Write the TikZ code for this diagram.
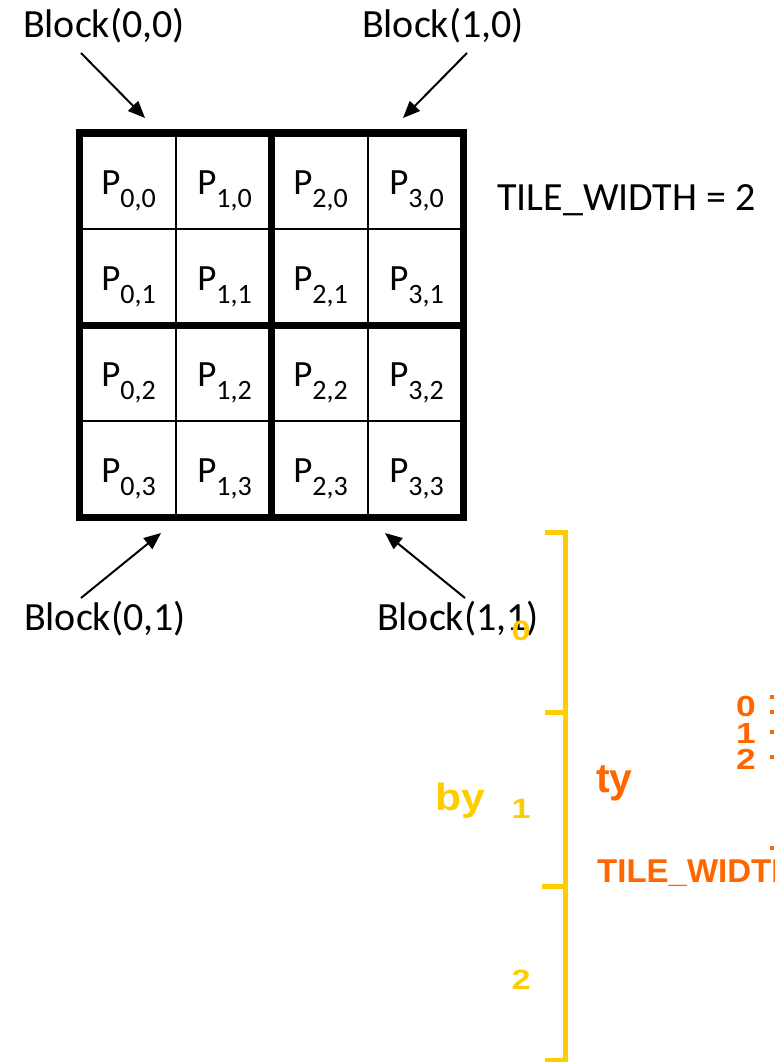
\documentclass[tikz,border=0pt]{standalone}
\usepackage{fontspec}
\usepackage{graphicx}
\setmainfont{Carlito}
\newfontfamily\arialfont{Liberation Sans}
\usetikzlibrary{arrows.meta}
\definecolor{ybr}{HTML}{FFCC00}
\definecolor{oran}{HTML}{FF6600}
\newcommand\Pcell[2]{P\raisebox{-13.4pt}{\fontsize{28}{28}\selectfont #1,#2}}
\newcommand\wide[1]{\scalebox{1.22}[1]{#1}}
\tikzset{
  blocklbl/.style={font=\fontsize{40}{48}\selectfont, inner sep=0pt, anchor=base},
  pcell/.style={font=\fontsize{37}{40}\selectfont, inner sep=0pt, anchor=base},
  gridthin/.style={line width=2pt, black},
  gridthick/.style={line width=7pt, black},
  ptr/.style={line width=2pt, -{Triangle[length=17pt,width=14pt]}},
  ylab/.style={text=ybr, font=\arialfont\bfseries\fontsize{28}{30}\selectfont, inner sep=0pt},
  olab/.style={text=oran, font=\arialfont\bfseries\fontsize{29}{30}\selectfont, inner sep=0pt},
  bigylab/.style={text=ybr, font=\arialfont\bfseries\fontsize{38}{42}\selectfont, inner sep=0pt},
  bigolab/.style={text=oran, font=\arialfont\bfseries\fontsize{41}{44}\selectfont, inner sep=0pt},
  bracket/.style={line width=5pt, ybr},
  omark/.style={fill=oran, draw=none},
}
\begin{document}
\begin{tikzpicture}[x=1pt,y=-1pt]
\useasboundingbox (0,0) rectangle (774,1062);
\begin{scope}
\clip (0,0) rectangle (774,1062);
% grid thin lines
\foreach \x in {175.5,367.5} \draw[gridthin] (\x,133) -- (\x,517);
\foreach \y in {229,421} \draw[gridthin] (79.5,\y) -- (463.5,\y);
% thick lines
\draw[gridthick] (271.5,133) -- (271.5,517);
\draw[gridthick] (79.5,325) -- (463.5,325);
\draw[gridthick] (79.5,133) rectangle (463.5,517);
% cells
\foreach \c [count=\i from 0] in {128.5,224.5,320.5,416.5}{
  \foreach \r [count=\j from 0] in {194,290,386,482}{
    \node[pcell] (p\i\j) at (\c,\r) {\Pcell{\i}{\j}};
  }
}
% block labels
\node[blocklbl] (b00) at (104,38) {Block(0,0)};
\node[blocklbl] (b10) at (443,38) {Block(1,0)};
\node[blocklbl] (b01) at (105,630) {Block(0,1)};
\node[blocklbl] (b11) at (458,630) {Block(1,1)};
\node[blocklbl, anchor=base west] (tw) at (497,210) {TILE\_WIDTH = 2};
% arrows
\coordinate (a00s) at (81,53);
\coordinate (a00e) at (145,118);
\coordinate (a10s) at (467,53);
\coordinate (a10e) at (403,118);
\coordinate (a01s) at (81,598);
\coordinate (a01e) at (161,533);
\coordinate (a11s) at (465,598);
\coordinate (a11e) at (385,533);
\draw[ptr] (a00s) -- (a00e);
\draw[ptr] (a10s) -- (a10e);
\draw[ptr] (a01s) -- (a01e);
\draw[ptr] (a11s) -- (a11e);
% yellow bracket
\draw[bracket] (545,532) -- (565,532) -- (565,1060) -- (545,1060);
\draw[bracket] (545,712) -- (565,712);
\draw[bracket] (542,886) -- (565,886);
\node[ylab] (y0) at (521,631) {\wide{0}};
\node[ylab] (y1) at (521,809) {\wide{1}};
\node[ylab] (y2) at (521,980) {\wide{2}};
\node[bigylab, anchor=base] (by) at (460,810) {\scalebox{1.12}[1]{by}};
% orange
\node[bigolab, anchor=base west] (ty) at (596,792) {ty};
\node[olab] (o0) at (746,707) {\wide{0}};
\node[olab] (o1) at (746,734) {\wide{1}};
\node[olab] (o2) at (746,759) {\wide{2}};
\node[text=oran, font=\arialfont\bfseries\fontsize{33}{36}\selectfont, inner sep=0pt, anchor=base west] (otw) at (597,882) {TILE\_WIDTH};
\foreach \yy in {697,712,732,757,848} \fill[omark] (770,\yy-2) rectangle (774,\yy+2);
\end{scope}
\end{tikzpicture}
\end{document}
